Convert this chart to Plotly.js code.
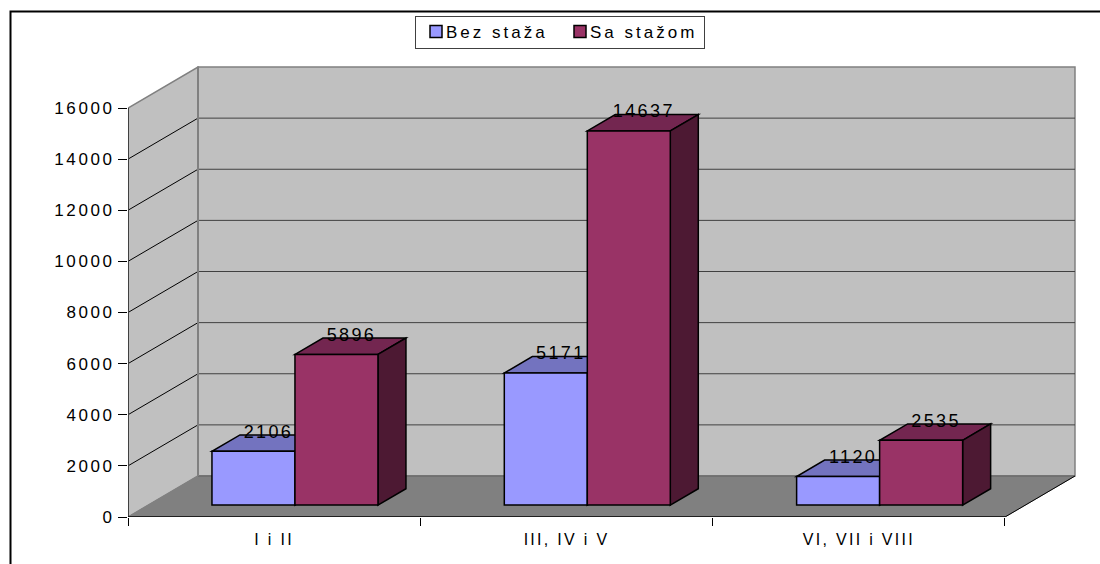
<!DOCTYPE html>
<html>
<head>
<meta charset="utf-8">
<script src="https://cdn.plot.ly/plotly-3.0.1.min.js"></script>
<style>
html,body{margin:0;padding:0;background:#fff;overflow:hidden}
#chart{width:1100px;height:564px}
.xtick text{letter-spacing:2.3px}
.ytick text{letter-spacing:2.6px}
.legendtext{letter-spacing:3px;transform:translateX(-10px)}
.legend .bg{y:3px;height:32px}
.textpoint text{letter-spacing:2.4px}
</style>
</head>
<body>
<div id="chart"></div>
<script>
var categories = ['I i II', 'III, IV i V', 'VI, VII i VIII'];
var bezStaza = [2106, 5171, 1120];
var saStazom = [5896, 14637, 2535];
var seriesNames = ['Bez staža', 'Sa stažom'];
var yTicks = [0, 2000, 4000, 6000, 8000, 10000, 12000, 14000, 16000];
var yTickText = ['0', '2000', '4000', '6000', '8000', '10000', '12000', '14000', '16000'];

// Oblique projection, in axis units per unit of depth
var CAT_PX = 292.33, VAL_PX = 409 / 16000;
var DEPTH_X = 70 / CAT_PX, DEPTH_Y = 41 / VAL_PX;
var X_MAX = 948 / CAT_PX, Y_MAX = 451 / VAL_PX;
var BAR_W = 83 / CAT_PX;
var FRONT = 0.29, BACK = 0.69;

function px(x, d) { return x + d * DEPTH_X; }
function py(y, d) { return y + d * DEPTH_Y; }
function poly(pts, fill, lineColor, lineWidth) {
  var p = pts.map(function (q, i) { return (i ? 'L' : 'M') + q[0] + ',' + q[1]; }).join(' ') + ' Z';
  return { type: 'path', xref: 'x', yref: 'y', layer: 'below', path: p, fillcolor: fill,
           line: { color: lineColor, width: lineWidth } };
}
function seg(x0, y0, x1, y1, color, width) {
  return { type: 'line', xref: 'x', yref: 'y', layer: 'below', x0: x0, y0: y0, x1: x1, y1: y1,
           line: { color: color, width: width } };
}

var shapes = [];
var top16 = yTicks[yTicks.length - 1];
// side wall, back wall, floor
shapes.push(poly([[0, 0], [px(0, 1), py(0, 1)], [px(0, 1), py(top16, 1)], [0, top16]], '#c0c0c0', '#808080', 1.5));
shapes.push(poly([[px(0, 1), py(0, 1)], [px(3, 1), py(0, 1)], [px(3, 1), py(top16, 1)], [px(0, 1), py(top16, 1)]], '#c0c0c0', '#808080', 1.5));
shapes.push(poly([[0, 0], [3, 0], [px(3, 1), py(0, 1)], [px(0, 1), py(0, 1)]], '#808080', '#808080', 1));
// gridlines
yTicks.forEach(function (v) {
  if (v > 0 && v < top16) {
    shapes.push(seg(0, v, px(0, 1), py(v, 1), '#000000', 1));
    shapes.push(seg(px(0, 1), py(v, 1), px(3, 1), py(v, 1), '#404040', 1));
  }
});
shapes.push(seg(px(0, 1), py(0, 1), px(3, 1), py(0, 1), '#606060', 1));
shapes.push(seg(px(0, 1), py(0, 1), px(0, 1), py(top16, 1), '#808080', 2));
// axis lines
shapes.push(seg(0, 0, 0, top16, '#404040', 2));
shapes.push(seg(0, 0, 3, 0, '#000000', 1.5));
shapes.push(seg(3, 0, px(3, 1), py(0, 1), '#000000', 1));

// Bars: x centres per series per category
var xA = [], xB = [], labelX = [], labelY = [], labelText = [];
var base = FRONT * DEPTH_Y;
function addFaces(xc, v, topCol, sideCol) {
  var l = xc - BAR_W / 2, r = xc + BAR_W / 2;
  var d = BACK - FRONT;
  shapes.push(poly([[l, base + v], [r, base + v], [r + d * DEPTH_X, base + v + d * DEPTH_Y], [l + d * DEPTH_X, base + v + d * DEPTH_Y]], topCol, '#000000', 1.5));
  shapes.push(poly([[r, base], [r + d * DEPTH_X, base + d * DEPTH_Y], [r + d * DEPTH_X, base + v + d * DEPTH_Y], [r, base + v]], sideCol, '#000000', 1.5));
  labelX.push(xc + 15 / CAT_PX);
  labelY.push(base + v + 18 / VAL_PX);
  labelText.push(String(v));
}
categories.forEach(function (c, i) {
  var centre = i + 0.5 + FRONT * DEPTH_X + 0.5 / CAT_PX;
  xA.push(centre - BAR_W / 2);
  xB.push(centre + BAR_W / 2);
  addFaces(xA[i], bezStaza[i], '#7373bf', '#4d4d80');
});
categories.forEach(function (c, i) {
  addFaces(xB[i], saStazom[i], '#732650', '#4d1933');
});

var barLine = { color: '#000000', width: 1.5 };
var traces = [
  { type: 'bar', name: seriesNames[0], x: xA, y: bezStaza, base: base, width: BAR_W,
    marker: { color: '#9999ff', line: barLine }, hoverinfo: 'skip' },
  { type: 'bar', name: seriesNames[1], x: xB, y: saStazom, base: base, width: BAR_W,
    marker: { color: '#993366', line: barLine }, hoverinfo: 'skip' },
  { type: 'scatter', mode: 'text', x: labelX, y: labelY, text: labelText, showlegend: false,
    textposition: 'middle center', hoverinfo: 'skip', cliponaxis: false,
    textfont: { family: 'Liberation Sans', size: 18, color: '#000000' } }
];

// frame, cropped by the picture on the right and at the bottom
shapes.push({ type: 'rect', xref: 'paper', yref: 'paper', layer: 'below',
  x0: (10.5 - 128) / 948, x1: (1110 - 128) / 948, y0: (517 - 580) / 451, y1: (517 - 11.5) / 451,
  line: { color: '#000000', width: 2 }, fillcolor: 'rgba(0,0,0,0)' });

var layout = {
  width: 1100, height: 564,
  margin: { l: 128, r: 24, t: 66, b: 47, pad: 0 },
  paper_bgcolor: '#ffffff', plot_bgcolor: 'rgba(0,0,0,0)',
  barmode: 'overlay',
  showlegend: true,
  legend: { orientation: 'h', x: (415 - 128) / 948, xanchor: 'left', y: 1 + (66 - 13) / 451, yanchor: 'top',
    bgcolor: '#ffffff', bordercolor: '#404040', borderwidth: 1, entrywidth: 99, entrywidthmode: 'pixels',
    font: { family: 'Liberation Sans', size: 17, color: '#000000' } },
  font: { family: 'Liberation Sans', size: 16, color: '#000000' },
  xaxis: { range: [0, X_MAX], showgrid: false, zeroline: false, showline: false, fixedrange: true,
    tickmode: 'array', tickvals: [0.5, 1.5, 2.5], ticktext: categories, ticks: '', tickfont: { size: 16 },
    ticklabelstandoff: 11,
    minor: { tickmode: 'array', tickvals: [0, 1, 2, 3], ticks: 'outside', ticklen: 8, tickcolor: '#000000', tickwidth: 1, showgrid: false } },
  yaxis: { range: [0, Y_MAX], showgrid: false, zeroline: false, showline: false, fixedrange: true,
    tickmode: 'array', tickvals: yTicks, ticktext: yTickText, ticks: 'outside', ticklen: 9, tickcolor: '#000000', tickwidth: 1,
    tickfont: { size: 17 } },
  shapes: shapes
};
Plotly.newPlot('chart', traces, layout, { displayModeBar: false, staticPlot: true });
</script>
</body>
</html>
